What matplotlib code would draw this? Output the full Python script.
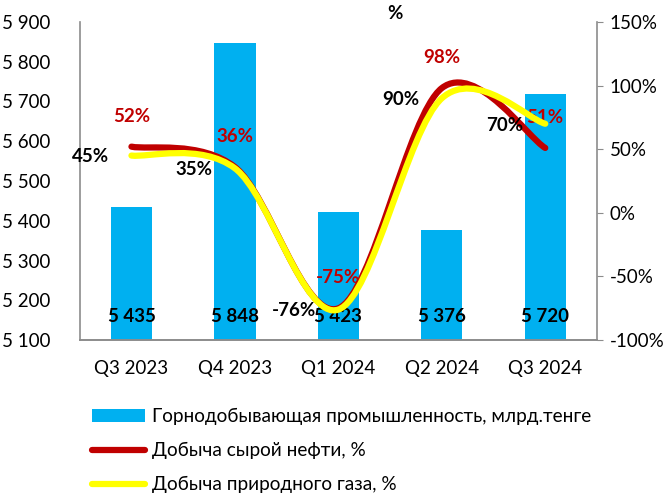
import matplotlib
matplotlib.use("Agg")
import matplotlib.pyplot as plt
from matplotlib.path import Path
from matplotlib.patches import PathPatch, Patch
from matplotlib.lines import Line2D
from matplotlib.ticker import FuncFormatter, MultipleLocator
import numpy as np

plt.rcParams['font.family'] = ['Lato', 'DejaVu Sans']

# data
quarters = ["Q3 2023", "Q4 2023", "Q1 2024", "Q2 2024", "Q3 2024"]
mining = [5435, 5848, 5423, 5376, 5720]          # млрд.тенге
oil = [52, 36, -75, 98, 51]                       # %
gas = [45, 35, -76, 90, 70]                       # %

BLUE = "#00B0F0"
RED = "#C00000"
YELLOW = "#FFFF00"
GRAY = "#8C8C8C"


def smooth_path(xs, ys):
    """Excel-style smoothed line: cubic bezier through every point"""
    pts = list(zip(xs, ys))
    n = len(pts)
    verts = [pts[0]]
    codes = [Path.MOVETO]
    for i in range(n - 1):
        p0 = pts[max(i - 1, 0)]
        p1 = pts[i]
        p2 = pts[i + 1]
        p3 = pts[min(i + 2, n - 1)]
        c1 = (p1[0] + (p2[0] - p0[0]) / 6, p1[1] + (p2[1] - p0[1]) / 6)
        c2 = (p2[0] - (p3[0] - p1[0]) / 6, p2[1] - (p3[1] - p1[1]) / 6)
        verts += [c1, c2, p2]
        codes += [Path.CURVE4] * 3
    return Path(verts, codes)


fig = plt.figure(figsize=(6.7, 4.98), dpi=100)
ax = fig.add_axes([0.119, 0.317, 0.772, 0.639])
ax2 = ax.twinx()

x = np.arange(len(quarters))
ax.bar(x, mining, width=0.4, color=BLUE, zorder=2)
ax.set_ylim(5100, 5900)
ax.set_xlim(-0.5, len(quarters) - 0.5)
ax.yaxis.set_major_locator(MultipleLocator(100))
ax.yaxis.set_major_formatter(FuncFormatter(lambda v, p: f"{int(v):,}".replace(",", " ")))
ax.set_xticks(x)
ax.set_xticklabels(quarters)
ax.tick_params(axis='both', length=0, labelsize=13.5, pad=14)
ax.tick_params(axis='y', pad=21)

for xi, v in zip(x, mining):
    ax.annotate(f"{v:,}".replace(",", " "), (xi, 5100), xytext=(0, 17),
                textcoords="offset points", ha="center", va="center",
                fontsize=13.5, fontweight="bold", color="black", zorder=5)

ax2.set_ylim(-100, 150)
ax2.yaxis.set_major_locator(MultipleLocator(50))
ax2.yaxis.set_major_formatter(FuncFormatter(lambda v, p: f"{int(v)}%"))
ax2.tick_params(axis='y', length=4, color=GRAY, labelsize=13.5, pad=5, direction='out')

ax2.add_patch(PathPatch(smooth_path(x, oil), fill=False, edgecolor=RED, lw=4.5,
                        capstyle='round', joinstyle='round', zorder=3))
ax2.add_patch(PathPatch(smooth_path(x, gas), fill=False, edgecolor=YELLOW, lw=4.5,
                        capstyle='round', joinstyle='round', zorder=4))

for xi, v in zip(x, oil):
    ax2.annotate(f"{v}%", (xi, v), xytext=(0, 22), textcoords="offset points",
                 ha="center", va="center", fontsize=13.5, fontweight="bold", color=RED)
for xi, v in zip(x, gas):
    ax2.annotate(f"{v}%", (xi, v), xytext=(-16, -1), textcoords="offset points",
                 ha="right", va="center", fontsize=13.5, fontweight="bold", color="black")

for a in (ax, ax2):
    a.spines['top'].set_visible(False)
    for s in ('left', 'right', 'bottom'):
        a.spines[s].set_color(GRAY)
        a.spines[s].set_linewidth(1.2)
ax.spines['right'].set_visible(False)
ax2.spines['left'].set_visible(False)
ax.set_zorder(1)
ax2.set_zorder(2)
ax.patch.set_visible(False)

fig.text(0.59, 0.972, "%", ha="center", va="center", fontsize=13.5, fontweight="bold")

handles = [Patch(facecolor=BLUE, edgecolor="none"),
           Line2D([], [], color=RED, lw=4.5, solid_capstyle='round'),
           Line2D([], [], color=YELLOW, lw=4.5, solid_capstyle='round')]
labels = ["Горнодобывающая промышленность, млрд.тенге",
          "Добыча сырой нефти, %",
          "Добыча природного газа, %"]
fig.legend(handles, labels, loc="upper left", bbox_to_anchor=(0.137, 0.18),
           frameon=False, fontsize=13.7, handlelength=2.8, handletextpad=0.35,
           labelspacing=0.88, borderpad=0, borderaxespad=0)

fig.savefig("out.png", dpi=100)
